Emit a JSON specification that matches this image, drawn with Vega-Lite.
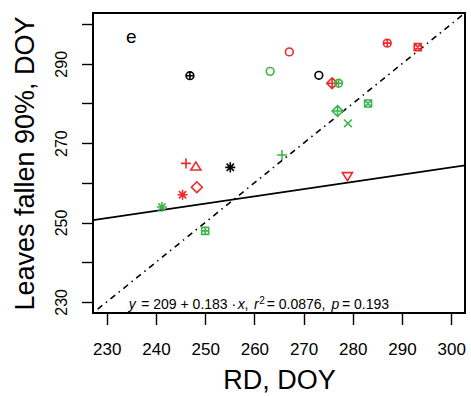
{
  "$schema": "https://vega.github.io/schema/vega-lite/v6.json",
  "width": 372,
  "height": 300,
  "autosize": "none",
  "padding": {"left": 93, "top": 13, "right": 6, "bottom": 83},
  "background": "white",
  "config": {
    "view": {"stroke": "black", "strokeWidth": 2},
    "axis": {
      "domain": false, "grid": false, "tickColor": "black", "tickWidth": 1.4, "tickSize": 11.5,
      "labelFont": "Liberation Sans", "labelColor": "black", "titleFont": "Liberation Sans",
      "titleColor": "black", "titleFontWeight": "normal", "labelOverlap": false, "labelFlush": false
    }
  },
  "encoding": {
    "x": {
      "field": "x", "type": "quantitative",
      "scale": {"domain": [227.2, 302.8], "nice": false, "zero": false},
      "axis": {
        "values": [230, 240, 250, 260, 270, 280, 290, 300],
        "labelFontSize": 17, "labelBaseline": "alphabetic", "labelPadding": 30,
        "title": "RD, DOY", "titleFontSize": 27, "titleBaseline": "alphabetic", "titleY": 75
      }
    },
    "y": {
      "field": "y", "type": "quantitative",
      "scale": {"domain": [227.2, 302.8], "nice": false, "zero": false},
      "axis": {
        "values": [230, 240, 250, 260, 270, 280, 290, 300],
        "labelExpr": "datum.value % 20 == 10 ? datum.label : ''",
        "labelAngle": -90, "labelAlign": "center", "labelBaseline": "alphabetic",
        "labelFontSize": 16, "labelPadding": 15,
        "title": "Leaves fallen 90%, DOY", "titleFontSize": 27, "titleAngle": -90,
        "titleAlign": "center", "titleBaseline": "alphabetic", "titleX": -60, "titleY": 150
      }
    }
  },
  "layer": [
    {
      "data": {"values": [{"x": 227.2, "y": 227.2}, {"x": 302.8, "y": 302.8}]},
      "mark": {"type": "line", "color": "black", "strokeWidth": 1.6, "strokeDash": [1.5, 4.5, 6, 4.5], "clip": true}
    },
    {
      "data": {"values": [{"x": 227.2, "y": 250.58}, {"x": 302.8, "y": 264.41}]},
      "mark": {"type": "line", "color": "black", "strokeWidth": 1.8, "clip": true}
    },
    {
      "data": {"values": [
        {"x": 246.9, "y": 287.0, "series": "S3", "marker": "circle_plus"},
        {"x": 263.2, "y": 288.1, "series": "S2", "marker": "circle"},
        {"x": 267.1, "y": 293.0, "series": "S1", "marker": "circle"},
        {"x": 273.1, "y": 287.1, "series": "S3", "marker": "circle"},
        {"x": 287.0, "y": 295.2, "series": "S1", "marker": "circle_plus"},
        {"x": 293.2, "y": 294.2, "series": "S1", "marker": "square_x"},
        {"x": 275.8, "y": 285.1, "series": "S1", "marker": "diamond_plus"},
        {"x": 277.1, "y": 285.1, "series": "S2", "marker": "circle_plus"},
        {"x": 276.9, "y": 278.1, "series": "S2", "marker": "diamond_plus"},
        {"x": 283.1, "y": 280.0, "series": "S2", "marker": "square_x"},
        {"x": 279.0, "y": 275.0, "series": "S2", "marker": "cross"},
        {"x": 265.6, "y": 267.0, "series": "S2", "marker": "plus"},
        {"x": 246.1, "y": 264.9, "series": "S1", "marker": "plus"},
        {"x": 248.1, "y": 264.1, "series": "S1", "marker": "triangle_up"},
        {"x": 255.1, "y": 263.9, "series": "S3", "marker": "asterisk"},
        {"x": 248.3, "y": 258.9, "series": "S1", "marker": "diamond"},
        {"x": 245.4, "y": 257.0, "series": "S1", "marker": "asterisk"},
        {"x": 241.2, "y": 253.9, "series": "S2", "marker": "asterisk"},
        {"x": 250.0, "y": 247.9, "series": "S2", "marker": "square_plus"},
        {"x": 278.9, "y": 261.7, "series": "S1", "marker": "triangle_down"}
      ]},
      "mark": {"type": "point", "filled": false, "strokeWidth": 1.6, "size": 60, "opacity": 1},
      "encoding": {
        "color": {"field": "series", "type": "nominal", "legend": null,
          "scale": {"domain": ["S1", "S2", "S3"], "range": ["#EE2A2E", "#3DB54A", "#000000"]}},
        "shape": {"field": "marker", "type": "nominal", "legend": null,
          "scale": {
            "domain": ["circle", "circle_plus", "square_x", "square_plus", "diamond", "diamond_plus", "cross", "plus", "asterisk", "triangle_up", "triangle_down"],
            "range": [
              "M1,0A1,1,0,1,1,-1,0A1,1,0,1,1,1,0Z",
              "M1,0A1,1,0,1,1,-1,0A1,1,0,1,1,1,0ZM-1,0L1,0M0,-1L0,1",
              "M-0.9,-0.9L0.9,-0.9L0.9,0.9L-0.9,0.9ZM-0.9,-0.9L0.9,0.9M-0.9,0.9L0.9,-0.9",
              "M-0.9,-0.9L0.9,-0.9L0.9,0.9L-0.9,0.9ZM-0.9,0L0.9,0M0,-0.9L0,0.9",
              "M0,-1.4L1.4,0L0,1.4L-1.4,0Z",
              "M0,-1.4L1.4,0L0,1.4L-1.4,0ZM-1.4,0L1.4,0M0,-1.4L0,1.4",
              "M-1,-1L1,1M-1,1L1,-1",
              "M-1.3,0L1.3,0M0,-1.3L0,1.3",
              "M-1.3,0L1.3,0M0,-1.3L0,1.3M-0.95,-0.95L0.95,0.95M-0.95,0.95L0.95,-0.95",
              "M0,-1.2L1.3,0.9L-1.3,0.9Z",
              "M0,1.2L1.3,-0.9L-1.3,-0.9Z"
            ]
          }}
      }
    },
    {
      "data": {"values": [{"x": 234.99, "y": 296.77, "label": "e"}]},
      "mark": {"type": "text", "font": "Liberation Sans", "fontSize": 19, "color": "black", "align": "center", "baseline": "middle"},
      "encoding": {"text": {"field": "label"}}
    },
    {
      "data": {"values": [
        {"x": 234.45, "y": 228.28, "label": "y"},
        {"x": 256.6, "y": 228.28, "label": "x"},
        {"x": 259.9, "y": 228.28, "label": "r"},
        {"x": 275.66, "y": 228.28, "label": "p"}
      ]},
      "mark": {"type": "text", "font": "Liberation Sans", "fontSize": 14, "fontStyle": "italic", "color": "black", "align": "left", "baseline": "alphabetic"},
      "encoding": {"text": {"field": "label"}}
    },
    {
      "data": {"values": [
        {"x": 237.0, "y": 228.28, "label": "= 209 + 0.183 ·"},
        {"x": 258.0, "y": 228.28, "label": ","},
        {"x": 262.5, "y": 228.28, "label": "= 0.0876,"},
        {"x": 277.79, "y": 228.28, "label": "= 0.193"}
      ]},
      "mark": {"type": "text", "font": "Liberation Sans", "fontSize": 14, "color": "black", "align": "left", "baseline": "alphabetic"},
      "encoding": {"text": {"field": "label"}}
    },
    {
      "data": {"values": [{"x": 261.0, "y": 229.54, "label": "2"}]},
      "mark": {"type": "text", "font": "Liberation Sans", "fontSize": 10, "color": "black", "align": "left", "baseline": "alphabetic"},
      "encoding": {"text": {"field": "label"}}
    }
  ]
}
